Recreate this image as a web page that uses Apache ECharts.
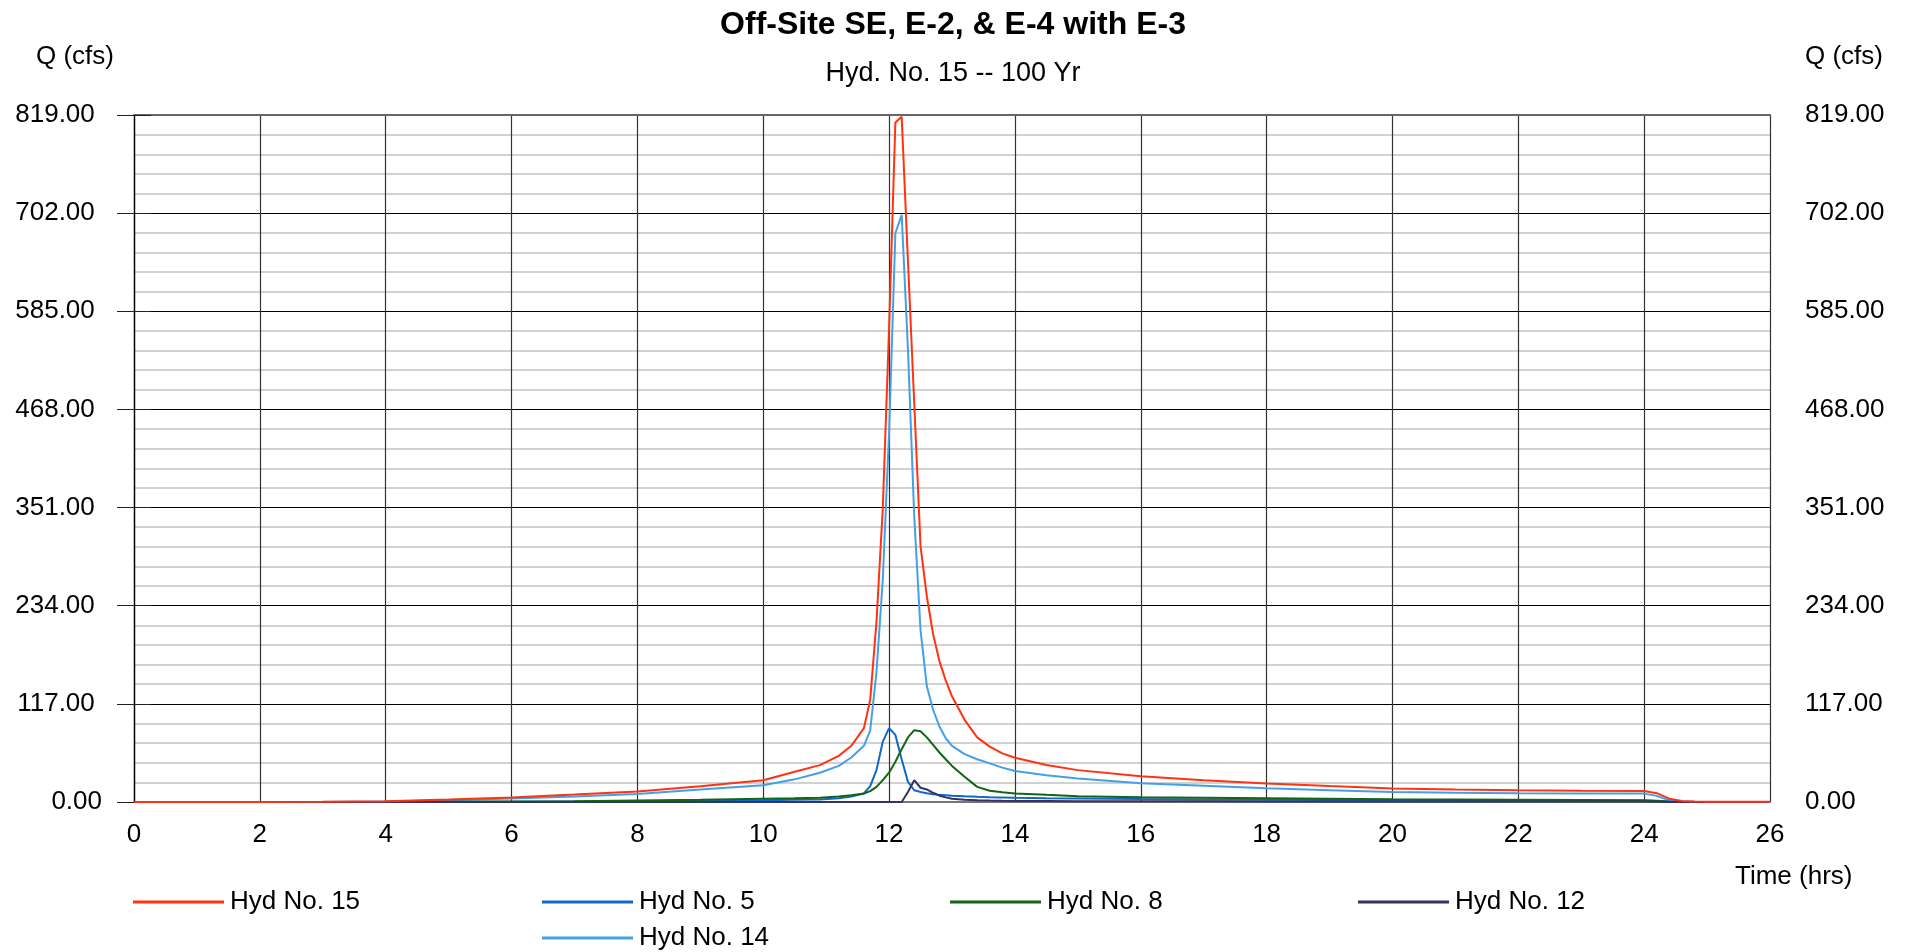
<!DOCTYPE html>
<html>
<head>
<meta charset="utf-8">
<script src="https://cdn.jsdelivr.net/npm/echarts@6/dist/echarts.min.js"></script>
<style>
html,body{margin:0;padding:0;background:#fff;}
#chart{width:1906px;height:952px;}
</style>
</head>
<body>
<div id="chart"></div>
<script>
// ---- data (time in hrs, flow in cfs) ----
var times = [0,1,2,3,4,5,6,7,8,9,10,
  10.5,10.9,11.2,11.4,
  11.6,11.7,11.8,11.9,12.0,12.1,12.2,12.3,12.4,12.5,12.6,12.7,12.8,12.9,13.0,
  13.2,13.4,13.6,13.8,14.0,
  14.5,15,
  16,17,18,19,20,21,22,23,24,
  24.2,24.4,24.6,24.8,25,26];

var hyd15 = [0,0,0,0.2,1,3,5.4,8.9,12.5,18.8,26,
  36,44,55,67,
  88,122,215,350,565,810,817,645,475,305,245,200,168,145,126,
  98,77,66,58,52.7,
  44,38,
  30.8,26,22.1,19,16.1,15,14.1,13.5,13,
  10.5,4,1.2,0.6,0.4,0.2];

var hyd5 = [0,0,0,0,0,0.2,0.4,0.7,1,1.5,2.2,
  2.7,3.1,4.5,6.5,
  10.2,19,38,72,88,80,51,24,14,12,10.5,9.3,8.5,8,7.5,
  6.8,6.2,5.8,5.5,5.2,
  4.6,4.2,
  3.5,3,2.6,2.3,2,1.8,1.7,1.6,1.5,
  1.2,0.5,0.1,0,0,0];

var hyd8 = [0,0,0,0,0,0.2,0.5,1,1.8,2.6,3.8,
  4.5,5.2,6.5,8,
  10.2,13,18,26,35,48,63,77,85.6,84.4,77,68,59,51,43,
  30,18,13.5,11.5,10.2,
  8.5,7,
  5.8,5,4.4,3.8,3.2,2.9,2.6,2.3,2,
  1.5,0.3,0,0,0,0];

var hyd12 = [0,0,0,0,0,0,0,0,0,0,0,
  0,0,0,0,
  0,0,0,0,0,0,0,12,26,17,15,11,7.5,5.5,4,
  2.8,2.2,1.8,1.5,1.3,
  1.1,1,
  0.9,0.8,0.7,0.7,0.6,0.6,0.5,0.5,0.5,
  0.3,0.1,0,0,0,0];

var hyd14 = [0,0,0,0.1,0.5,2,4.2,6.6,9.4,14.8,20,
  27,34.8,43,53,
  67,85,155,265,440,678,700,540,340,205,138,110,90,76,67,
  57,51,46,41,37,
  32,28,
  22.3,19.5,16.3,14,11.9,11,10.3,10.1,10,
  7.3,2,0.5,0.2,0.1,0];

var seriesNames = ['Hyd No. 15','Hyd No. 5','Hyd No. 8','Hyd No. 12','Hyd No. 14'];
var seriesValues = [hyd15, hyd5, hyd8, hyd12, hyd14];
var seriesColors = ['#ff3311','#1166cc','#116611','#333366','#44a0e6'];

var yMax = 819, yStep = 117;
var xMax = 26, xStep = 2;

var FONT = 'Liberation Sans, Arial, sans-serif';

function pairs(vals){ return times.map(function(t,i){ return [t, vals[i]]; }); }

var chart = echarts.init(document.getElementById('chart'), null, {renderer:'canvas'});

var legendPos = [
  {left:133, top:889},
  {left:542, top:889},
  {left:950, top:889},
  {left:1358, top:889},
  {left:542, top:925}
];

var leftLabelFmt = function(v){ return v === 0 ? '0.00' : v.toFixed(2) + ' '; };
var rightLabelFmt = function(v){ return v.toFixed(2); };

var option = {
  animation: false,
  backgroundColor: '#fff',
  textStyle: {fontFamily: FONT},
  title: {
    text: 'Off-Site SE, E-2, & E-4 with E-3',
    subtext: 'Hyd. No. 15 -- 100 Yr',
    left: 'center',
    top: 3,
    itemGap: 18,
    textStyle: {fontFamily: FONT, fontSize: 32, fontWeight: 'bold', color: '#000', lineHeight: 34},
    subtextStyle: {fontFamily: FONT, fontSize: 27, color: '#000', lineHeight: 28}
  },
  grid: {left:134, right:136, top:115, bottom:150, containLabel:false},
  xAxis: [{
    type: 'value', min: 0, max: xMax, interval: xStep,
    position: 'bottom',
    axisLine: {show: true, onZero: false, lineStyle: {color:'#777', width:2}},
    axisTick: {show: false},
    axisLabel: {fontFamily: FONT, fontSize: 26, color: '#000', margin: 20},
    splitLine: {show: true, lineStyle: {color:'#333', width:1.2}}
  },{
    type: 'value', min: 0, max: xMax, interval: xStep,
    position: 'top',
    axisLine: {show: true, onZero: false, lineStyle: {color:'#666', width:2}},
    axisTick: {show: false},
    axisLabel: {show: false},
    splitLine: {show: false}
  }],
  yAxis: [{
    type: 'value', min: 0, max: yMax, interval: yStep,
    position: 'left',
    axisLine: {show: true, lineStyle: {color:'#222', width:1.2}},
    axisTick: {show: true, inside: false, length: 17, lineStyle: {color:'#222', width:1}},
    axisLabel: {fontFamily: FONT, fontSize: 26, color: '#000', margin: 32, formatter: leftLabelFmt},
    splitLine: {show: true, lineStyle: {color:['#777','#000','#000','#000','#000','#000','#000','#666'], width:1}},
    minorTick: {show: false, splitNumber: 5},
    minorSplitLine: {show: true, lineStyle: {color:'#d2d2d2', width:1.8}}
  },{
    type: 'value', min: 0, max: yMax, interval: yStep,
    position: 'right',
    axisLine: {show: true, lineStyle: {color:'#000', width:1.2}},
    axisTick: {show: true, inside: false, length: 17, lineStyle: {color:'#222', width:1}},
    axisLabel: {fontFamily: FONT, fontSize: 26, color: '#000', margin: 35, formatter: rightLabelFmt},
    splitLine: {show: false}
  }],
  legend: seriesNames.map(function(n, i){
    return {
      data: [n],
      left: legendPos[i].left,
      top: legendPos[i].top,
      orient: 'horizontal',
      padding: 0,
      icon: 'rect',
      itemWidth: 91,
      itemHeight: 3,
      selectedMode: false,
      textStyle: {fontFamily: FONT, fontSize: 26, color: '#000', padding: [0,0,0,1]}
    };
  }),
  graphic: [
    {type:'text', left: 36, top: 44, style:{text:'Q (cfs)', font:'26px Liberation Sans, Arial, sans-serif', fill:'#000'}},
    {type:'text', left: 1805, top: 44, style:{text:'Q (cfs)', font:'26px Liberation Sans, Arial, sans-serif', fill:'#000'}},
    {type:'text', left: 1735, top: 864, style:{text:'Time (hrs)', font:'26px Liberation Sans, Arial, sans-serif', fill:'#000'}}
  ],
  series: seriesNames.map(function(n, i){
    return {
      name: n,
      type: 'line',
      xAxisIndex: 0,
      yAxisIndex: 0,
      data: pairs(seriesValues[i]),
      showSymbol: false,
      symbol: 'none',
      color: seriesColors[i],
      lineStyle: {color: seriesColors[i], width: 2},
      z: [6,3,4,5,2][i]
    };
  })
};

chart.setOption(option);
</script>
</body>
</html>
